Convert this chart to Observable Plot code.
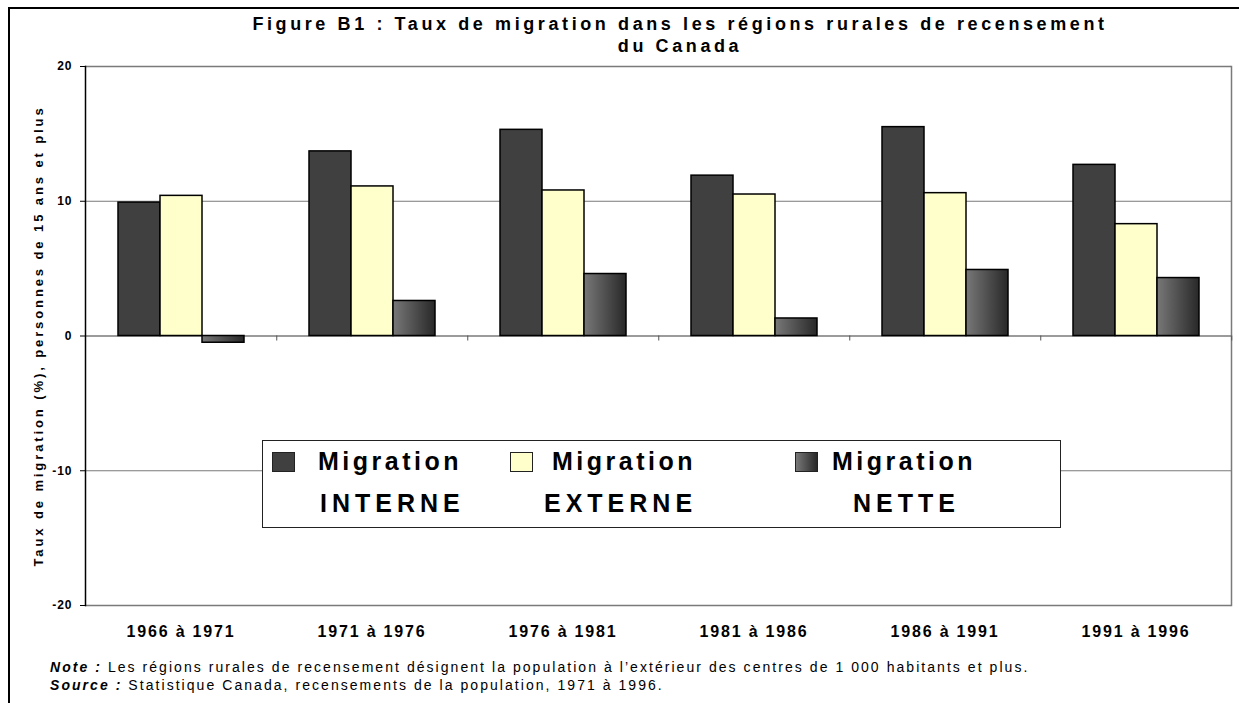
<!DOCTYPE html>
<html><head><meta charset="utf-8">
<script src="https://cdn.jsdelivr.net/npm/d3@7"></script>
<script src="https://cdn.jsdelivr.net/npm/@observablehq/plot@0.6"></script>
<style>
body{margin:0;background:#fff;overflow:hidden;font-family:Arial,"Liberation Sans",sans-serif;color:#000;}
#wrap{position:relative;width:1239px;height:703px;overflow:hidden;}
#border{position:absolute;left:8px;top:7px;width:1300px;height:800px;border-left:2px solid #000;border-top:2px solid #000;}
#chart{position:absolute;left:0;top:0;}
#title{position:absolute;left:180px;width:1000px;top:13px;text-align:center;font-weight:bold;font-size:18px;letter-spacing:3.6px;line-height:22px;}
#ylabel{position:absolute;left:38px;top:336px;transform:translate(-50%,-50%) rotate(-90deg);white-space:nowrap;font-weight:bold;font-size:13px;letter-spacing:2.9px;}
#legend{position:absolute;left:262px;top:440px;width:797px;height:86px;border:1px solid #222;background:#fff;}
#legend .sw{position:absolute;top:11px;width:23px;height:20px;box-sizing:border-box;border:1.5px solid #222;}
#legend .t{position:absolute;font-weight:bold;font-size:25px;line-height:25px;letter-spacing:3.5px;white-space:nowrap;}
#legend .t2{letter-spacing:5px;}
#notes{position:absolute;left:50px;top:658px;font-size:14px;letter-spacing:2.05px;line-height:18px;white-space:nowrap;}
#notes b{font-style:italic;}
svg [aria-label="fx-axis tick label"] text{letter-spacing:1.8px;}
svg [aria-label="y-axis tick label"] text{letter-spacing:1px;}
</style>
</head><body>
<div id="wrap">
  <div id="border"></div>
  <div id="chart"></div>
  <div id="title">Figure B1 : Taux de migration dans les régions rurales de recensement<br>du Canada</div>
  <div id="ylabel">Taux de migration (%), personnes de 15 ans et plus</div>
  <div id="legend"></div>
  <div id="notes"><b>Note :</b> Les régions rurales de recensement désignent la population à l’extérieur des centres de 1 000 habitants et plus.<br><b>Source :</b> Statistique Canada, recensements de la population, 1971 à 1996.</div>
</div>
<script>
const periods = ["1966 à 1971", "1971 à 1976", "1976 à 1981", "1981 à 1986", "1986 à 1991", "1991 à 1996"];
const series = ["INTERNE", "EXTERNE", "NETTE"];
const interne = [9.9, 13.7, 15.3, 11.9, 15.5, 12.7];
const externe = [10.4, 11.1, 10.8, 10.5, 10.6, 8.3];
const nette = [-0.5, 2.6, 4.6, 1.3, 4.9, 4.3];
const yTicks = [-20, -10, 0, 10, 20];
const seriesColors = ["#404040", "#FFFFCC", "url(#netteGrad)"];

const values = {INTERNE: interne, EXTERNE: externe, NETTE: nette};
const data = periods.flatMap((p, i) => series.map(s => ({period: p, series: s, value: values[s][i]})));

const W = 1239, H = 650, ML = 83, MR = 7, MT = 66, MB = 45;
const facetStep = (W - ML - MR) / periods.length;
const innerH = H - MT - MB;

const chart = Plot.plot({
  width: W, height: H,
  marginLeft: ML, marginRight: MR, marginTop: MT, marginBottom: MB,
  style: {fontFamily: "Arial, 'Liberation Sans', sans-serif", background: "transparent", color: "#000"},
  fx: {domain: periods, padding: 0, label: null},
  x: {domain: series, paddingInner: 0, paddingOuter: 0.745, axis: null},
  y: {domain: [-20, 20], label: null},
  color: {domain: series, range: seriesColors},
  marks: [
    Plot.ruleY([10, -10], {stroke: "#7a7a7a", strokeWidth: 1}),
    Plot.ruleY([20, -20], {stroke: "#7a7a7a", strokeWidth: 1.5}),
    Plot.frame({anchor: "right", facetAnchor: "right", stroke: "#7a7a7a", strokeWidth: 1.5}),
    Plot.ruleY([0], {stroke: "#7a7a7a", strokeWidth: 1.5}),
    Plot.axisFx({anchor: "bottom", text: null, tickSize: 5, dx: facetStep / 2, dy: -innerH / 2, stroke: "#555", label: null}),
    Plot.barY(data, {fx: "period", x: "series", y: "value", fill: "series", stroke: "#000", strokeWidth: 1.5}),
    Plot.frame({anchor: "left", facetAnchor: "left", stroke: "#000", strokeWidth: 1.5}),
    Plot.axisY({ticks: yTicks, tickFormat: d => String(d), tickSize: 5, tickPadding: 8, fontWeight: "bold", fontSize: 12, label: null}),
    Plot.axisFx({anchor: "bottom", tickSize: 0, tickPadding: 20, fontWeight: "bold", fontSize: 16, label: null})
  ]
});

const defs = d3.select(chart).insert("defs", ":first-child");
const grad = defs.append("linearGradient").attr("id", "netteGrad").attr("x1", 0).attr("x2", 1).attr("y1", 0).attr("y2", 0);
grad.append("stop").attr("offset", "0%").attr("stop-color", "#787878");
grad.append("stop").attr("offset", "100%").attr("stop-color", "#282828");
document.getElementById("chart").appendChild(chart);

// Legend
const legend = document.getElementById("legend");
const legendItems = [
  {sw: 9, t1: 55, t2: 57},
  {sw: 247, t1: 289, t2: 281},
  {sw: 532, t1: 569, t2: 590}
];
series.forEach((s, i) => {
  const it = legendItems[i];
  const sw = document.createElement("div");
  sw.className = "sw";
  sw.style.left = it.sw + "px";
  sw.style.background = i === 2 ? "linear-gradient(to right, #787878, #282828)" : seriesColors[i];
  legend.appendChild(sw);
  const a = document.createElement("div");
  a.className = "t"; a.style.left = it.t1 + "px"; a.style.top = "8px"; a.textContent = "Migration";
  legend.appendChild(a);
  const b = document.createElement("div");
  b.className = "t t2"; b.style.left = it.t2 + "px"; b.style.top = "50px"; b.textContent = s;
  legend.appendChild(b);
});
</script>
</body></html>
